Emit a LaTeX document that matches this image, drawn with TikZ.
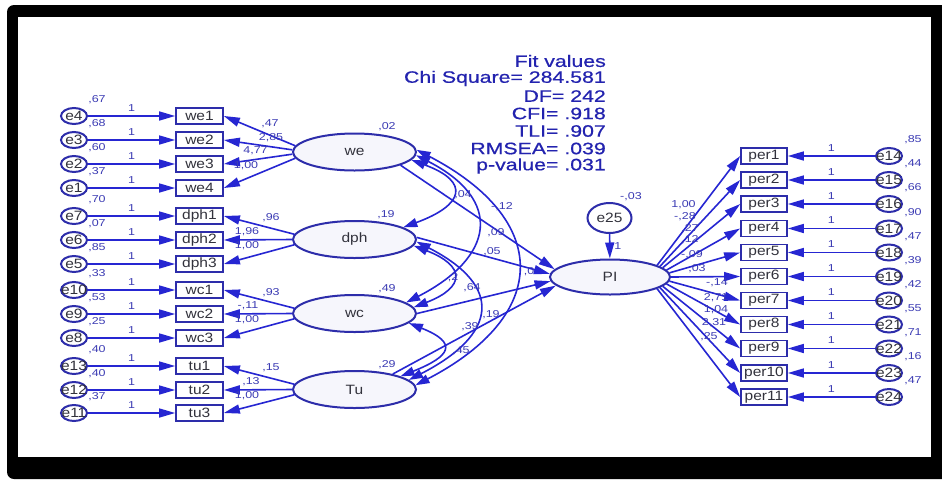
\documentclass[tikz,border=0pt]{standalone}
\usepackage{fontspec}
\newfontfamily\arl[FakeStretch=1.15]{Liberation Sans}
\newfontfamily\arlw[FakeStretch=1.25]{Liberation Sans}
\newfontfamily\arlf[FakeStretch=1.29,FakeBold=0.6]{Liberation Sans}
\usetikzlibrary{arrows.meta,shapes.geometric}
\definecolor{lcol}{RGB}{38,38,210}
\definecolor{ecol}{RGB}{45,45,170}
\definecolor{labcol}{RGB}{60,60,180}
\definecolor{tcol}{RGB}{50,50,60}
\definecolor{efill}{RGB}{246,246,252}
\definecolor{fitcol}{RGB}{35,35,175}
\tikzset{
 lat/.style={ellipse, draw=ecol, line width=2pt, fill=efill, minimum width=123pt, minimum height=37pt, inner sep=0pt, font=\arl\fontsize{13.5}{13.5}\selectfont, text=tcol},
 errn/.style={ellipse, draw=ecol, line width=2pt, fill=white, minimum width=26pt, minimum height=16pt, inner sep=0pt, font=\arl\fontsize{13.5}{13.5}\selectfont, text=tcol},
 obs/.style={rectangle, draw=ecol, line width=1.7pt, fill=white, minimum width=47pt, minimum height=16pt, inner sep=0pt, font=\arl\fontsize{13.5}{13.5}\selectfont, text=tcol},
 lab/.style={font=\arlw\fontsize{10}{10}\selectfont, text=labcol, inner sep=0pt},
 fitt/.style={font=\arlf\fontsize{16.5}{16.5}\selectfont, text=fitcol, inner sep=0pt, anchor=east},
 con/.style={draw=lcol, line width=1.6pt, -{Triangle[length=16pt,width=9pt]}},
 cov/.style={draw=lcol, line width=1.6pt, {Triangle[length=14pt,width=9pt]}-{Triangle[length=14pt,width=9pt]}},
}
\begin{document}
\begin{tikzpicture}[x=1pt,y=-1pt]
\useasboundingbox (0,0) rectangle (942,480);
\fill[white] (0,0) rectangle (942,480);
\begin{scope}
\clip (0,0) rectangle (942,480);
\fill[black, rounded corners=7pt] (7,5) rectangle (960,479);
\end{scope}
\fill[white] (18,17) rectangle (931,457);

% fit values
\foreach \t/\y [count=\i] in {Fit values/61, Chi Square= 284.581/78.5, DF= 242/96, CFI= .918/113.5, TLI= .907/131, RMSEA= .039/148.5, p-value= .031/166}
  \node[fitt] (fit\i) at (606,\y) {\t};

% latent variables
\node[lat] (we) at (354.5,152) {we};
\node[lat] (dph) at (354.5,239.5) {dph};
\node[lat] (wc) at (354.5,313.5) {wc};
\node[lat] (Tu) at (354.5,389.5) {Tu};
\node[lab] (vwe) at (387,127) {,02};
\node[lab] (vdph) at (386,215) {,19};
\node[lab] (vwc) at (387,289) {,49};
\node[lab] (vTu) at (387,365) {,29};

% left indicators
\foreach \e/\b/\y/\v in {e4/we1/116/{,67},e3/we2/140/{,68},e2/we3/164/{,60},e1/we4/188/{,37},e7/dph1/216/{,70},e6/dph2/240/{,07},e5/dph3/264/{,85},e10/wc1/290/{,33},e9/wc2/314/{,53},e8/wc3/338/{,25},e13/tu1/366/{,40},e12/tu2/390/{,40},e11/tu3/413/{,37}}{
  \node[obs] (\b) at (199.5,\y) {\b};
  \node[errn] (\e) at (74,\y) {\makebox[0pt]{\e}};
  \node[lab] (v\e) at (97,\y-16) {\v};
  \draw[con] (\e) -- node[lab, yshift=8pt] (o\e) {1} (\b);
}

% loadings
\draw[con] (we.174) -- (we1.east);
\draw[con] (we.178) -- (we2.east);
\draw[con] (we.182) -- (we3.east);
\draw[con] (we.186) -- (we4.east);
\draw[con] (dph.175) -- (dph1.east);
\draw[con] (dph.180) -- (dph2.east);
\draw[con] (dph.185) -- (dph3.east);
\draw[con] (wc.175) -- (wc1.east);
\draw[con] (wc.180) -- (wc2.east);
\draw[con] (wc.185) -- (wc3.east);
\draw[con] (Tu.175) -- (tu1.east);
\draw[con] (Tu.180) -- (tu2.east);
\draw[con] (Tu.185) -- (tu3.east);
\node[lab] (l1) at (270,124) {,47};
\node[lab] (l2) at (271,138) {2,85};
\node[lab] (l3) at (255.5,151) {4,77};
\node[lab] (l4) at (246,166) {1,00};
\node[lab] (l5) at (271,218) {,96};
\node[lab] (l6) at (247,232) {1,96};
\node[lab] (l7) at (247,246) {1,00};
\node[lab] (l8) at (271,293) {,93};
\node[lab] (l9) at (248,306) {-,11};
\node[lab] (l10) at (247,320) {1,00};
\node[lab] (l11) at (271,368) {,15};
\node[lab] (l12) at (251,382) {,13};
\node[lab] (l13) at (247,396) {1,00};

% PI and disturbance
\node[lat, minimum width=120pt, minimum height=35pt] (PI) at (610,277) {PI};
\node[errn, minimum width=44pt, minimum height=30pt] (e25) at (609.5,218) {e25};
\node[lab] (ve25) at (631,197) {-,03};
\draw[con] (e25) -- node[lab, xshift=8pt] (o25) {1} (PI);

% structural paths
\draw[con] (we.-16) -- (PI.172);
\draw[con] (dph.2) -- (PI.177);
\draw[con] (wc.0) -- (PI.184);
\draw[con] (Tu.22) -- (PI.189);

% covariances
\draw[cov] (we.-8) .. controls +(60,22) and +(60,-22) .. (dph.14);
\draw[cov] (we.-3) .. controls +(88,45) and +(88,-45) .. (wc.12);
\draw[cov] (we.2) .. controls +(135,70) and +(135,-70) .. (Tu.4);
\draw[cov] (dph.-6) .. controls +(52,20) and +(52,-20) .. (wc.6);
\draw[cov] (dph.-2) .. controls +(88,45) and +(88,-45) .. (Tu.10);
\draw[cov] (wc.-10) .. controls +(50,20) and +(50,-20) .. (Tu.16);

\node[lab] (m1) at (463,195) {,04};
\node[lab] (m2) at (502,207) {-,12};
\node[lab] (m3) at (496,233) {,09};
\node[lab] (m4) at (492,252) {,05};
\node[lab] (m5) at (529,272) {,0};
\node[lab] (m6) at (453,278) {,2};
\node[lab] (m7) at (472,288) {,64};
\node[lab] (m8) at (491,315) {,19};
\node[lab] (m9) at (470,327) {,39};
\node[lab] (m10) at (461,351) {,45};

% right indicators
\foreach \b/\e/\y/\v/\a in {per1/e14/156/{,85}/14, per2/e15/180/{,44}/12, per3/e16/204/{,66}/10, per4/e17/228.5/{,90}/7, per5/e18/252.5/{,47}/4, per6/e19/276.5/{,39}/0, per7/e20/300.5/{,42}/-4, per8/e21/324.5/{,55}/-7, per9/e22/348.5/{,71}/-10, per10/e23/373/{,16}/-12, per11/e24/397/{,47}/-14}{
  \node[obs, minimum width=46pt] (\b) at (764,\y) {\b};
  \node[errn] (\e) at (889,\y) {\makebox[0pt]{\e}};
  \node[lab] (v\e) at (913,\y-16) {\v};
  \draw[con] (\e) -- node[lab, yshift=8pt] (o\e) {1} (\b);
  \draw[con] (PI.\a) -- (\b.west);
}
\node[lab] (r1) at (683.5,205) {1,00};
\node[lab] (r2) at (685,217) {-,28};
\node[lab] (r3) at (690,229) {,27};
\node[lab] (r4) at (690,240) {,12};
\node[lab] (r5) at (692,255) {-,09};
\node[lab] (r6) at (697,269) {,03};
\node[lab] (r7) at (717,283) {-,14};
\node[lab] (r8) at (716,298) {2,71};
\node[lab] (r9) at (716,310) {1,04};
\node[lab] (r10) at (714,323) {2,31};
\node[lab] (r11) at (709,337) {,25};
\end{tikzpicture}
\end{document}
